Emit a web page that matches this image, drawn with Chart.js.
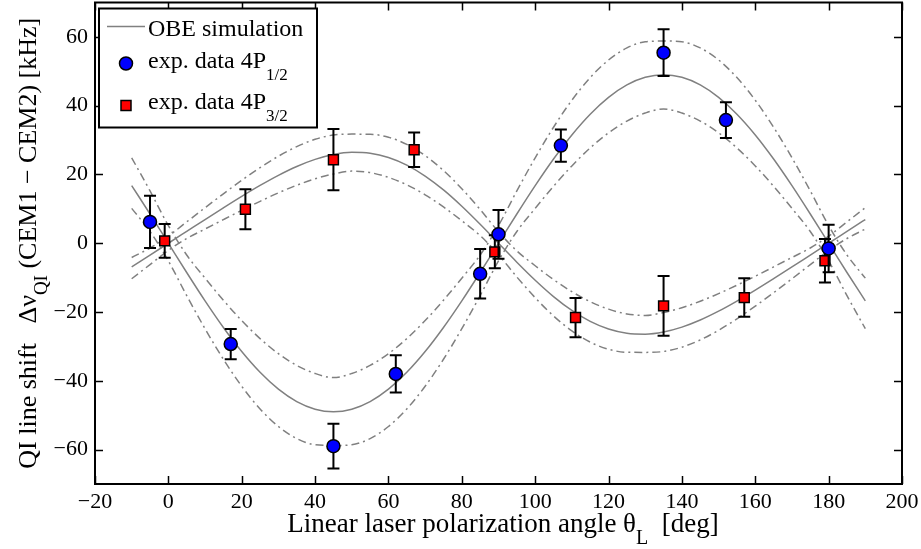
<!DOCTYPE html>
<html>
<head>
<meta charset="utf-8">
<script src="https://cdn.jsdelivr.net/npm/chart.js@4.4.1/dist/chart.umd.min.js"></script>
<style>
html,body{margin:0;padding:0;background:#fff;overflow:hidden;}
#wrap{width:921px;height:549px;position:relative;overflow:hidden;}
#c{position:absolute;left:0;top:-6px;}
</style>
</head>
<body>
<div id="wrap"><canvas id="c" width="921" height="555"></canvas></div>
<script>
// ---------- data ----------
const thetaGrid = [-10,-5,0,5,10,15,20,25,30,35,40,45,50,55,60,65,70,75,80,85,90,95,100,105,110,115,120,125,130,135,140,145,150,155,160,165,170,175,180,185,190];

// OBE simulation, 4P1/2 (solid) and its uncertainty band (dash-dot)
const obe12   = [16.76,8.51,0,-8.51,-16.76,-24.5,-31.5,-37.53,-42.43,-46.05,-48.26,-49.0,-48.26,-46.05,-42.43,-37.53,-31.5,-24.5,-16.76,-8.51,0,8.51,16.76,24.5,31.5,37.53,42.43,46.05,48.26,49.0,48.26,46.05,42.43,37.53,31.5,24.5,16.76,8.51,0,-8.51,-16.76];
const obe12Hi = [24.85,15.22,5.13,-3.42,-10.15,-16.57,-22.49,-27.72,-32.11,-35.53,-37.86,-39.05,-37.86,-35.53,-32.11,-27.72,-22.49,-16.57,-10.15,-3.42,5.13,15.22,24.85,33.73,41.58,48.17,53.29,56.79,58.58,58.8,58.58,56.79,53.29,48.17,41.58,33.73,24.85,15.22,5.13,-3.42,-10.15];
const obe12Lo = [10.15,3.42,-5.13,-15.22,-24.85,-33.73,-41.58,-48.17,-53.29,-56.79,-58.58,-58.8,-58.58,-56.79,-53.29,-48.17,-41.58,-33.73,-24.85,-15.22,-5.13,3.42,10.15,16.57,22.49,27.72,32.11,35.53,37.86,39.05,37.86,35.53,32.11,27.72,22.49,16.57,10.15,3.42,-5.13,-15.22,-24.85];

// OBE simulation, 4P3/2 (solid) and its uncertainty band (dash-dot)
const obe32   = [-6.90,-3.45,0,3.45,6.90,10.30,13.63,16.81,19.75,22.32,24.38,25.80,26.43,26.17,24.94,22.72,19.54,15.50,10.75,5.51,0,-5.51,-10.75,-15.50,-19.54,-22.72,-24.94,-26.17,-26.43,-25.80,-24.38,-22.32,-19.75,-16.81,-13.63,-10.30,-6.90,-3.45,0,3.45,6.90];
const obe32Hi = [-4.14,-1.38,2.07,6.21,10.33,14.38,18.29,21.98,25.30,28.10,30.22,31.47,31.73,31.70,30.82,28.74,25.49,21.14,15.84,9.81,3.33,-2.22,-6.54,-10.56,-14.09,-16.99,-19.16,-20.54,-20.98,-20.14,-18.74,-16.87,-14.65,-12.19,-9.58,-6.88,-4.14,-1.38,2.07,6.21,10.33];
const obe32Lo = [-10.33,-6.21,-2.07,1.38,4.14,6.88,9.58,12.19,14.65,16.87,18.74,20.14,20.98,20.54,19.16,16.99,14.09,10.56,6.54,2.22,-3.33,-9.81,-15.84,-21.14,-25.49,-28.74,-30.82,-31.70,-31.73,-31.47,-30.22,-28.10,-25.30,-21.98,-18.29,-14.38,-10.33,-6.21,-2.07,1.38,4.14];

// experimental data
const exp12Angle = [-5,17,45,62,85,90,107,135,152,180];
const exp12Shift = [6.2,-29.3,-59.0,-38.0,-8.9,2.6,28.4,55.4,35.8,-1.5];
const exp12Err   = [7.6,4.4,6.5,5.4,7.2,7.1,4.7,6.8,5.2,6.9];
const exp32Angle = [-1,21,45,67,89,111,135,157,179];
const exp32Shift = [0.7,9.9,24.3,27.2,-2.5,-21.6,-18.2,-15.8,-5.1];
const exp32Err   = [4.9,5.8,8.9,5.0,4.8,5.7,8.7,5.6,6.3];

const xTicks = [-20,0,20,40,60,80,100,120,140,160,180,200];
const yTicks = [-60,-40,-20,0,20,40,60];

const legendLabels = ['OBE simulation','exp. data 4P','exp. data 4P'];
const legendSubs   = ['','1/2','3/2'];
const xTitle = ['Linear laser polarization angle \u03B8','L','  [deg]'];
const yTitle = ['QI line shift   \u0394\u03BD','QI',' (CEM1 \u2212 CEM2) [kHz]'];

// ---------- helpers ----------
const pts = (xs, ys) => xs.map((x, i) => ({x: x, y: ys[i]}));
const fmt = v => String(v).replace('-', '\u2212');
const GRAY = '#808080';
const SERIF = '"Liberation Serif", "Times New Roman", serif';
const DASHDOT = [8,4,2,4];

Chart.defaults.font.family = SERIF;

const errorBars = {
  id: 'errorBars',
  beforeDatasetDraw(chart, args) {
    const ds = chart.data.datasets[args.index];
    if (!ds.errors) return;
    const xs = chart.scales.x, ys = chart.scales.y, ctx = chart.ctx;
    ctx.save();
    ctx.strokeStyle = '#000';
    ctx.lineWidth = 2;
    ds.data.forEach((p, i) => {
      const e = ds.errors[i];
      const px = xs.getPixelForValue(p.x);
      const t = ys.getPixelForValue(p.y + e);
      const b = ys.getPixelForValue(p.y - e);
      ctx.beginPath();
      ctx.moveTo(px, t); ctx.lineTo(px, b);
      ctx.moveTo(px - 6, t); ctx.lineTo(px + 6, t);
      ctx.moveTo(px - 6, b); ctx.lineTo(px + 6, b);
      ctx.stroke();
    });
    ctx.restore();
  }
};

function drawPieces(ctx, pieces, x0, base, big, small, drop) {
  let x = x0;
  ctx.font = big + 'px ' + SERIF;
  ctx.fillText(pieces[0], x, base); x += ctx.measureText(pieces[0]).width;
  ctx.font = small + 'px ' + SERIF;
  ctx.fillText(pieces[1], x, base + drop); x += ctx.measureText(pieces[1]).width;
  ctx.font = big + 'px ' + SERIF;
  ctx.fillText(pieces[2], x, base);
}
function piecesWidth(ctx, pieces, big, small) {
  ctx.font = big + 'px ' + SERIF;
  let w = ctx.measureText(pieces[0]).width + ctx.measureText(pieces[2]).width;
  ctx.font = small + 'px ' + SERIF;
  return w + ctx.measureText(pieces[1]).width;
}

const frame = {
  id: 'frame',
  afterDatasetsDraw(chart) {
    const {ctx, chartArea: a, scales: {x, y}} = chart;
    ctx.save();
    ctx.strokeStyle = '#000';
    ctx.lineWidth = 1.5;
    ctx.beginPath();
    x.ticks.forEach(t => {
      const p = Math.round(x.getPixelForValue(t.value)) + 0.5;
      ctx.moveTo(p, a.bottom); ctx.lineTo(p, a.bottom - 8);
      ctx.moveTo(p, a.top); ctx.lineTo(p, a.top + 8);
    });
    y.ticks.forEach(t => {
      const p = Math.round(y.getPixelForValue(t.value)) + 0.5;
      ctx.moveTo(a.left, p); ctx.lineTo(a.left + 8, p);
      ctx.moveTo(a.right, p); ctx.lineTo(a.right - 8, p);
    });
    ctx.stroke();
    ctx.lineWidth = 2;
    ctx.strokeRect(a.left, a.top, a.right - a.left, a.bottom - a.top);

    // legend
    const lx = a.left + 4, ly = a.top + 6, lw = 218, lh = 119;
    ctx.fillStyle = '#fff';
    ctx.fillRect(lx, ly, lw, lh);
    ctx.lineWidth = 2;
    ctx.strokeStyle = '#000';
    ctx.strokeRect(lx, ly, lw, lh);
    ctx.strokeStyle = GRAY;
    ctx.lineWidth = 1.5;
    ctx.beginPath(); ctx.moveTo(lx + 8, ly + 18); ctx.lineTo(lx + 46, ly + 18); ctx.stroke();
    ctx.beginPath(); ctx.arc(lx + 27, ly + 55, 6.5, 0, Math.PI * 2);
    ctx.fillStyle = '#0000ff'; ctx.fill();
    ctx.strokeStyle = '#000'; ctx.lineWidth = 1.5; ctx.stroke();
    ctx.beginPath(); ctx.rect(lx + 22, ly + 92, 10, 10);
    ctx.fillStyle = '#ff0000'; ctx.fill(); ctx.stroke();
    ctx.fillStyle = '#000';
    ctx.textAlign = 'left';
    ctx.textBaseline = 'alphabetic';
    const bases = [ly + 27, ly + 59, ly + 100];
    legendLabels.forEach((lab, i) => {
      ctx.font = '24px ' + SERIF;
      ctx.fillText(lab, lx + 49, bases[i]);
      if (legendSubs[i]) {
        const w = ctx.measureText(lab).width;
        ctx.font = '17px ' + SERIF;
        ctx.fillText(legendSubs[i], lx + 49 + w, bases[i] + 12);
      }
    });

    // x-axis title (baseline 48 px below the plot frame)
    const xw = piecesWidth(ctx, xTitle, 27, 20);
    drawPieces(ctx, xTitle, 503 - xw / 2, a.bottom + 48, 27, 20, 12);
    // y-axis title, rotated
    ctx.save();
    ctx.translate(36, (a.top + a.bottom) / 2);
    ctx.rotate(-Math.PI / 2);
    const yw = piecesWidth(ctx, yTitle, 26, 19);
    drawPieces(ctx, yTitle, -yw / 2, 0, 26, 19, 11);
    ctx.restore();
    ctx.restore();
  }
};

const lineDs = (label, ys, dashed, order) => ({
  label: label,
  data: pts(thetaGrid, ys),
  showLine: true,
  borderColor: GRAY,
  borderWidth: 1.5,
  borderDash: dashed ? DASHDOT : [],
  pointRadius: 0,
  pointHoverRadius: 0,
  cubicInterpolationMode: 'monotone',
  fill: false,
  order: order
});

new Chart(document.getElementById('c'), {
  type: 'scatter',
  data: {
    datasets: [
      {
        label: 'exp. data 4P1/2',
        data: pts(exp12Angle, exp12Shift),
        errors: exp12Err,
        pointStyle: 'circle',
        pointRadius: 6.5,
        pointBackgroundColor: '#0000ff',
        pointBorderColor: '#000',
        pointBorderWidth: 1.5,
        order: 0
      },
      {
        label: 'exp. data 4P3/2',
        data: pts(exp32Angle, exp32Shift),
        errors: exp32Err,
        pointStyle: 'rect',
        pointRadius: 7,
        pointBackgroundColor: '#ff0000',
        pointBorderColor: '#000',
        pointBorderWidth: 1.5,
        order: 1
      },
      lineDs('OBE simulation 4P1/2', obe12, false, 2),
      lineDs('OBE 4P1/2 upper', obe12Hi, true, 3),
      lineDs('OBE 4P1/2 lower', obe12Lo, true, 4),
      lineDs('OBE simulation 4P3/2', obe32, false, 5),
      lineDs('OBE 4P3/2 upper', obe32Hi, true, 6),
      lineDs('OBE 4P3/2 lower', obe32Lo, true, 7)
    ]
  },
  options: {
    responsive: false,
    animation: false,
    devicePixelRatio: 1,
    events: [],
    layout: {padding: {left: 0, right: 19, top: 1, bottom: 0}},
    plugins: {legend: {display: false}, tooltip: {enabled: false}},
    scales: {
      x: {
        type: 'linear', min: -20, max: 200,
        afterBuildTicks: s => { s.ticks = xTicks.map(v => ({value: v})); },
        afterFit: s => { s.height = 65; s.paddingLeft = 0; s.paddingRight = 0; },
        grid: {display: false, drawTicks: false},
        border: {display: false},
        ticks: {padding: 5, color: '#000', font: {size: 22}, maxRotation: 0, autoSkip: false, callback: v => fmt(v)}
      },
      y: {
        type: 'linear', min: -70, max: 70,
        afterBuildTicks: s => { s.ticks = yTicks.map(v => ({value: v})); },
        afterFit: s => { s.width = 95; s.paddingTop = 0; s.paddingBottom = 0; },
        grid: {display: false, drawTicks: false},
        border: {display: false},
        ticks: {padding: 7, color: '#000', font: {size: 22}, autoSkip: false, callback: v => fmt(v)}
      }
    }
  },
  plugins: [errorBars, frame]
});
</script>
</body>
</html>
